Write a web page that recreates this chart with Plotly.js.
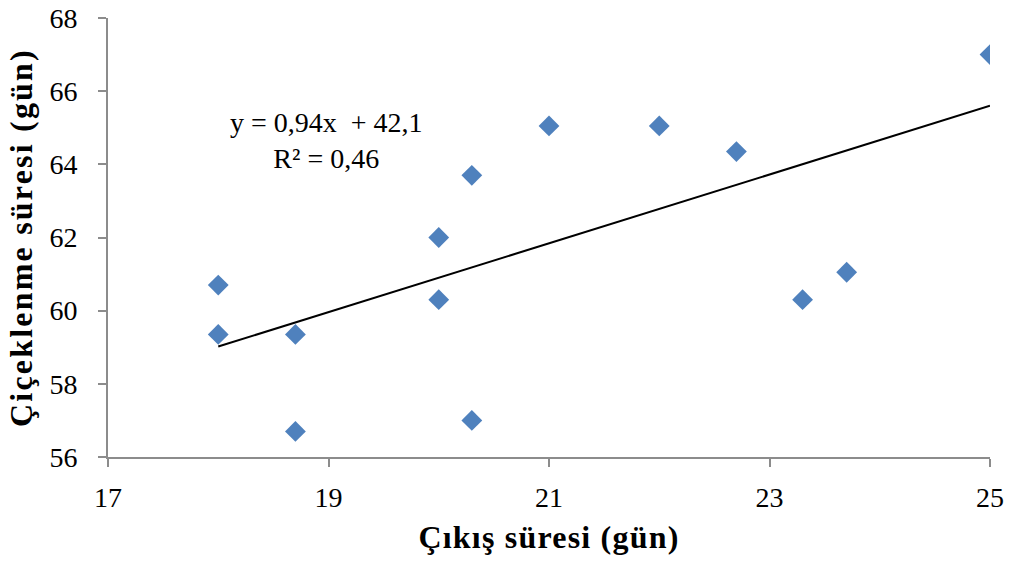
<!DOCTYPE html>
<html>
<head>
<meta charset="utf-8">
<script src="https://cdn.plot.ly/plotly-3.0.1.min.js"></script>
<style>
html,body{margin:0;padding:0;background:#fff;}
#chart{width:1020px;height:572px;}
#chart .ytitle{letter-spacing:2.2px;}
#chart .xtitle{letter-spacing:1.2px;}
</style>
</head>
<body>
<div id="chart"></div>
<script>
const cikis = [18, 18, 18.7, 18.7, 20, 20, 20.3, 20.3, 21, 22, 22.7, 23.3, 23.7, 25];
const ciceklenme = [60.7, 59.35, 59.35, 56.7, 62, 60.3, 63.7, 57, 65.05, 65.05, 64.35, 60.3, 61.05, 67];
const xTicks = [17, 19, 21, 23, 25];
const yTicks = [56, 58, 60, 62, 64, 66, 68];
const trendSlope = 0.94;
const trendIntercept = 42.1;
const eqText = 'y = 0,94x  + 42,1<br>R² = 0,46';

const xMin = Math.min(...cikis), xMax = Math.max(...cikis);
const fam = 'Liberation Serif, Times New Roman, serif';
const tickFam = 'Times New Roman, Liberation Serif, serif';
const tickFont = {family: tickFam, size: 28, color: '#000'};

Plotly.newPlot('chart', [
  {x: [xMin, xMax], y: [trendIntercept + trendSlope * xMin, trendIntercept + trendSlope * xMax],
   mode: 'lines', type: 'scatter', line: {color: '#000', width: 2}, hoverinfo: 'skip', showlegend: false},
  {x: cikis, y: ciceklenme, mode: 'markers', type: 'scatter',
   marker: {symbol: 'diamond', size: 16, color: '#4F81BD', line: {width: 0}}, showlegend: false}
], {
  width: 1020, height: 572,
  margin: {l: 108, r: 30, t: 18, b: 115},
  paper_bgcolor: '#fff', plot_bgcolor: '#fff',
  font: {family: fam, size: 28, color: '#000'},
  xaxis: {range: [17, 25], tickmode: 'array', tickvals: xTicks, ticktext: xTicks.map(String),
          showgrid: false, zeroline: false,
          showline: true, linecolor: '#8c8c8c', linewidth: 2, ticks: 'outside', ticklen: 8, tickwidth: 2, tickcolor: '#8c8c8c',
          tickfont: tickFont, ticklabelstandoff: 6,
          title: {text: '<b>Çıkış süresi (gün)</b>', font: {family: fam, size: 32, color: '#000'}, standoff: 14}},
  yaxis: {range: [56, 68], tickmode: 'array', tickvals: yTicks, ticktext: yTicks.map(String),
          showgrid: false, zeroline: false,
          showline: true, linecolor: '#8c8c8c', linewidth: 2, ticks: 'outside', ticklen: 8, tickwidth: 2, tickcolor: '#8c8c8c',
          tickfont: tickFont, ticklabelstandoff: 15,
          title: {text: '<b>Çiçeklenme süresi (gün)</b>', font: {family: fam, size: 32, color: '#000'}, standoff: 7}},
  annotations: [{x: 18.98, y: 64.66, xref: 'x', yref: 'y', text: eqText, showarrow: false, align: 'center',
                 font: {family: fam, size: 28, color: '#000'}}]
}, {displayModeBar: false, staticPlot: true});
</script>
</body>
</html>
